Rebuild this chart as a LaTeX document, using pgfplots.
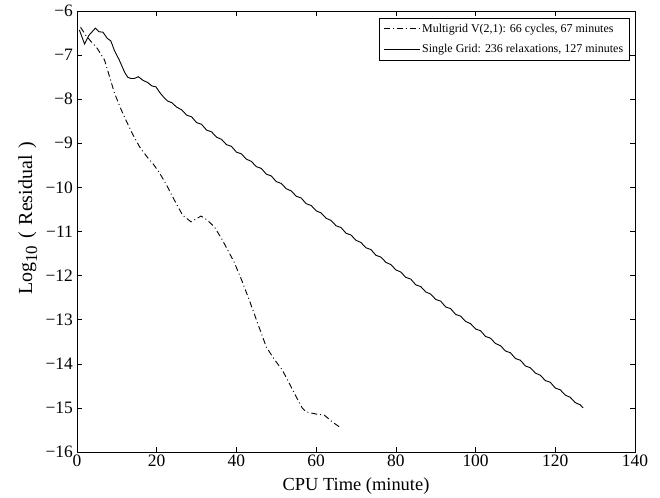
\documentclass[border=0pt]{standalone}
\usepackage{fontspec}
\setmainfont{Liberation Serif}
\usepackage{pgfplots}
\pgfplotsset{compat=1.18}

\begin{document}
\begin{tikzpicture}
\begin{axis}[
    scale only axis,
    width=558bp, height=441bp,
    xmin=0, xmax=140, ymin=-16, ymax=-6,
    xtick={0,20,...,140},
    ytick={-16,-15,...,-6},
    yticklabels={−16,−15,−14,−13,−12,−11,−10,−9,−8,−7,−6},
    tick align=inside,
    major tick length=5bp,
    axis line style={line width=0.6bp},
    every tick/.style={line width=0.6bp, black},
    /pgf/number format/assume math mode=true,
    tick label style={font=\fontsize{17.5}{17.5}\selectfont},
    yticklabel style={inner sep=2bp, xshift=-2bp},
    xticklabel style={inner sep=3bp},
    xlabel={CPU Time (minute)},
    ylabel={Log{\fontsize{17}{17}\selectfont\raisebox{-0.3em}{10}}\hspace{0.35em}(\hspace{0.35em}Residual\hspace{0.35em})},
    xlabel style={font=\fontsize{18.5}{18.5}\selectfont, at={(axis description cs:0.5,0)}, anchor=base, yshift=-38bp},
    ylabel style={font=\fontsize{20}{20}\selectfont, at={(axis description cs:-0.0806,0.53)}, anchor=base},
    legend style={at={(rel axis cs:0.99,0.985)}, anchor=north east,
        font=\fontsize{12}{12}\selectfont, draw=black, line width=0.6bp,
        inner sep=4bp, row sep=7bp},
    legend cell align=left,
    legend image code/.code={\draw[#1] (0bp,0bp) -- (36bp,0bp);},
]
\coordinate (bl) at (rel axis cs:0,0);
\coordinate (tr) at (rel axis cs:1,1);

\addplot[black, line width=0.9bp, dash pattern=on 6bp off 3bp on 1bp off 3bp] coordinates {
(0.9,-6.37) (2.2,-6.55) (3.6,-6.70) (5.1,-6.85) (6.9,-7.11) (8.2,-7.50)
(9.4,-7.86) (10.9,-8.20) (12.4,-8.50) (14.0,-8.80) (15.7,-9.08) (17.5,-9.30)
(19.2,-9.48) (20.7,-9.67) (22.5,-9.95) (24.5,-10.30) (26.5,-10.63) (28.6,-10.78)
(29.8,-10.72) (31.1,-10.65) (32.7,-10.74) (34.5,-10.90) (36.2,-11.15) (38.0,-11.45)
(39.5,-11.71) (41.3,-12.10) (43.2,-12.55) (45.4,-13.10) (47.5,-13.62) (49.5,-13.90)
(51.5,-14.14) (53.3,-14.45) (55.0,-14.75) (56.5,-15.00) (57.5,-15.09) (60.0,-15.14)
(62.0,-15.16) (64.1,-15.32) (66.3,-15.46)
};
\addlegendentry{Multigrid V(2,1): 66 cycles, 67 minutes}

\addplot[black, line width=0.9bp] coordinates {
(0.6,-6.43) (1.9,-6.75) (3.0,-6.55) (4.6,-6.39) (5.5,-6.47) (6.5,-6.48)
(7.6,-6.62) (8.5,-6.68) (9.4,-6.90) (10.6,-7.11) (11.9,-7.38) (12.7,-7.50)
(13.5,-7.53) (14.4,-7.53) (15.4,-7.49) (16.5,-7.57) (17.7,-7.62) (18.8,-7.70)
(19.8,-7.72) (20.7,-7.84) (21.7,-7.95) (22.7,-8.04) (23.8,-8.08) (25.0,-8.18)
(26.25,-8.24) (27.5,-8.36) (28.75,-8.40) (30,-8.53) (31.25,-8.57) (32.5,-8.70)
(33.75,-8.74) (35,-8.86) (36.25,-8.91) (37.5,-9.03) (38.75,-9.07) (40,-9.20)
(41.25,-9.24) (42.5,-9.36) (43.75,-9.41) (45,-9.53) (46.25,-9.57) (47.5,-9.70)
(48.75,-9.74) (50,-9.87) (51.25,-9.91) (52.5,-10.03) (53.75,-10.08) (55,-10.20)
(56.25,-10.24) (57.5,-10.37) (58.75,-10.41) (60,-10.53) (61.25,-10.58) (62.5,-10.70)
(63.75,-10.75) (65,-10.87) (66.25,-10.91) (67.5,-11.04) (68.75,-11.08) (70,-11.20)
(71.25,-11.25) (72.5,-11.37) (73.75,-11.41) (75,-11.54) (76.25,-11.58) (77.5,-11.70)
(78.75,-11.75) (80,-11.87) (81.25,-11.92) (82.5,-12.04) (83.75,-12.08) (85,-12.21)
(86.25,-12.25) (87.5,-12.37) (88.75,-12.42) (90,-12.54) (91.25,-12.58) (92.5,-12.71)
(93.75,-12.75) (95,-12.88) (96.25,-12.92) (97.5,-13.04) (98.75,-13.09) (100,-13.21)
(101.25,-13.25) (102.5,-13.38) (103.75,-13.42) (105,-13.54) (106.25,-13.59) (107.5,-13.71)
(108.75,-13.75) (110,-13.88) (111.25,-13.92) (112.5,-14.05) (113.75,-14.09) (115,-14.21)
(116.25,-14.26) (117.5,-14.38) (118.75,-14.42) (120,-14.55) (121.25,-14.59) (122.5,-14.71)
(123.75,-14.76) (125,-14.88) (126.25,-14.93) (127,-15.00)
};
\addlegendentry{Single Grid: 236 relaxations, 127 minutes}
\end{axis}
\pgfresetboundingbox
\path[use as bounding box] ([shift={(-77bp,-46bp)}]bl) rectangle ([shift={(25bp,11bp)}]tr);
\end{tikzpicture}
\end{document}
